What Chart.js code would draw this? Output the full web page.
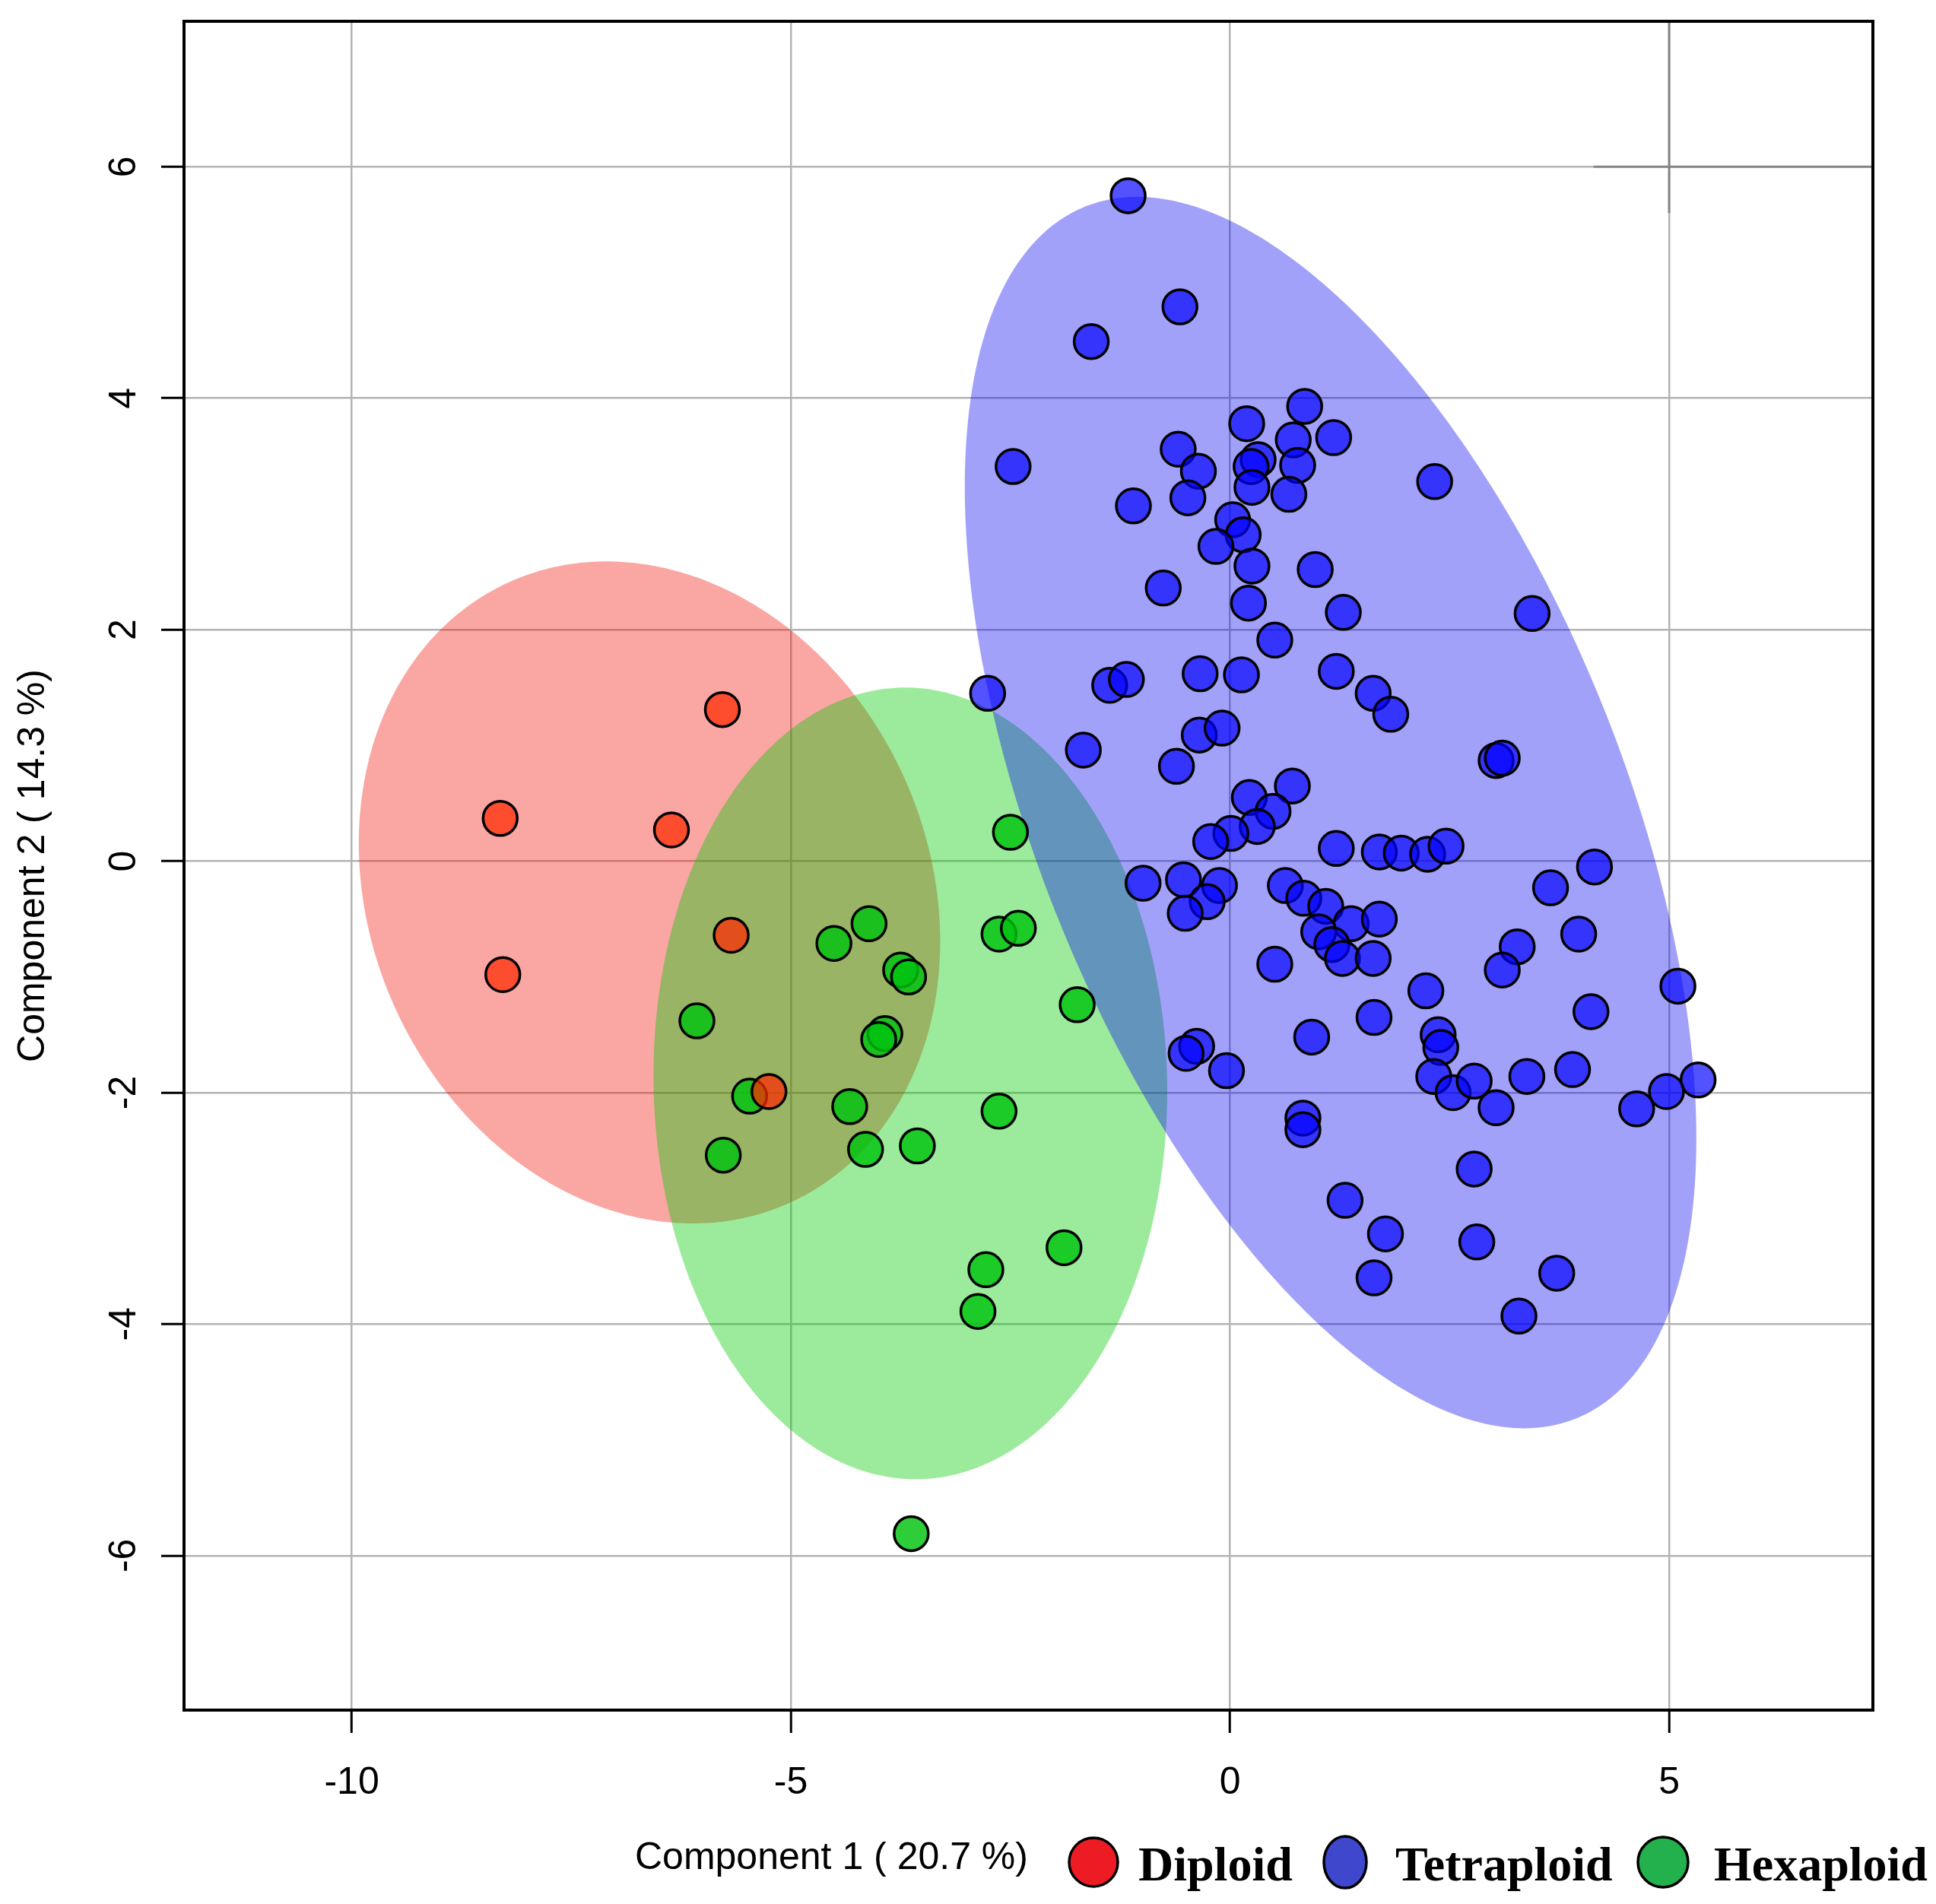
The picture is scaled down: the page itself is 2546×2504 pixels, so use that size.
<!DOCTYPE html>
<html>
<head>
<meta charset="utf-8">
<title>PCA ploidy</title>
<script src="https://cdn.jsdelivr.net/npm/chart.js@4.4.1/dist/chart.umd.min.js"></script>
<style>
  html, body { margin: 0; padding: 0; background: #fff; overflow: hidden; }
  #wrap { width: 2546px; height: 2504px; }
</style>
</head>
<body>
<div id="wrap"><canvas id="pca"></canvas></div>
<script>
// scores (Component 1, Component 2)
const groupNames = ['Diploid', 'Tetraploid', 'Hexaploid'];

const diploidX = [-5.78, -8.31, -6.36, -5.68, -8.28, -5.25];
const diploidY = [1.31, 0.37, 0.27, -0.64, -0.98, -1.99];

const tetraploidX = [
  -1.16, -0.57, -1.58, -2.47, -0.59, -0.36, -0.48, -1.10, 0.19, 0.85,
  0.72, 1.18, 0.32, 0.24, 0.77, 0.25, 0.67, 2.33, 0.03, 0.15,
  -0.16, 0.25, 0.97, -0.76, 0.21, 1.29, 3.44, 0.51, 1.21, 1.63,
  1.83, -0.34, 0.13, -1.37, -1.18, -2.76, -1.67, -0.35, -0.09, -0.61,
  3.03, 3.10, 0.22, 0.71, 0.49, 0.31, 0.01, -0.22, 1.21, 1.70,
  1.95, 2.25, 2.46, -0.99, -0.53, -0.12, -0.26, -0.51, 0.63, 0.84,
  1.09, 1.38, 1.70, 1.01, 1.16, 1.28, 1.63, 0.51, 3.27, 3.10,
  2.23, 1.64, 0.93, 2.37, 2.40, 2.32, 2.54, 2.78, 3.03, 3.38,
  -0.38, -0.50, -0.04, 0.83, 0.83, 2.78, 1.31, 1.77, 2.81, 1.64,
  3.29, 4.15, 3.65, 3.97, 5.10, 4.11, 3.90, 5.33, 4.97, 4.63,
  3.72
];
const tetraploidY = [
  5.75, 4.79, 4.49, 3.41, 3.56, 3.37, 3.14, 3.07, 3.78, 3.93,
  3.64, 3.66, 3.47, 3.41, 3.42, 3.23, 3.17, 3.28, 2.95, 2.82,
  2.72, 2.55, 2.52, 2.36, 2.23, 2.15, 2.14, 1.91, 1.64, 1.45,
  1.27, 1.62, 1.61, 1.52, 1.57, 1.45, 0.96, 1.09, 1.15, 0.82,
  0.87, 0.89, 0.55, 0.65, 0.43, 0.30, 0.24, 0.17, 0.11, 0.08,
  0.07, 0.06, 0.13, -0.19, -0.16, -0.21, -0.35, -0.45, -0.21, -0.32,
  -0.39, -0.54, -0.50, -0.61, -0.72, -0.84, -0.84, -0.89, -0.74, -0.94,
  -1.12, -1.35, -1.52, -1.50, -1.61, -1.86, -2.00, -1.90, -2.13, -1.86,
  -1.60, -1.66, -1.81, -2.22, -2.32, -2.66, -2.93, -3.22, -3.29, -3.60,
  -3.93, -0.05, -0.23, -0.63, -1.08, -1.30, -1.80, -1.89, -1.99, -2.14,
  -3.56
];

const hexaploidX = [
  -2.50, -2.63, -2.41, -1.74, -2.63, -1.89, -2.78, -2.87, -3.63, -4.11,
  -4.51, -3.75, -3.66, -6.07, -3.93, -4.00, -5.47, -4.33, -5.77, -4.15,
  -3.56
];
const hexaploidY = [
  0.25, -0.63, -0.58, -1.24, -2.16, -3.34, -3.53, -3.89, -5.81, -0.54,
  -0.71, -0.94, -1.00, -1.38, -1.49, -1.54, -2.03, -2.12, -2.54, -2.49,
  -2.46
];

// confidence ellipses (Diploid, Tetraploid, Hexaploid): centre, spread, correlation
const ellipseCx = [-6.61, 1.145, -3.64];
const ellipseCy = [-0.27, 0.42, -1.92];
const ellipseSx = [3.31, 4.165, 2.925];
const ellipseSy = [2.86, 5.32, 3.42];
const ellipseRho = [-0.148, -0.529, -0.02];

const xTicks = [-10, -5, 0, 5];
const yTicks = [-6, -4, -2, 0, 2, 4, 6];

const pointFill = ['rgba(255,40,0,0.72)', 'rgba(0,0,255,0.68)', 'rgba(0,195,15,0.82)'];
const ellipseFill = ['rgba(240,10,0,0.36)', 'rgba(0,0,240,0.37)', 'rgba(0,200,0,0.39)'];
const legendFill = ['#ed1c24', '#3f48cc', '#22b14c'];
const ellipseOrder = [0, 2, 1];

const SANS = '"Liberation Sans", Arial, sans-serif';
const SERIF = '"Liberation Serif", "Times New Roman", serif';

Chart.defaults.font.family = SANS;
Chart.defaults.font.size = 50;
Chart.defaults.color = '#000';

function toPoints(xs, ys) {
  return xs.map((v, i) => ({ x: v, y: ys[i] }));
}

// faint darker segments seen in the top-right corner of the original
const cornerPlugin = {
  id: 'corner',
  beforeDatasetsDraw(chart) {
    const { ctx, chartArea, scales: { x, y } } = chart;
    ctx.save();
    ctx.strokeStyle = '#858585';
    ctx.lineWidth = 3;
    ctx.beginPath();
    ctx.moveTo(x.getPixelForValue(5), chartArea.top);
    ctx.lineTo(x.getPixelForValue(5), y.getPixelForValue(5.6));
    ctx.moveTo(x.getPixelForValue(4.14), y.getPixelForValue(6));
    ctx.lineTo(chartArea.right, y.getPixelForValue(6));
    ctx.stroke();
    ctx.restore();
  }
};

const ellipsePlugin = {
  id: 'ellipses',
  beforeDatasetsDraw(chart) {
    const { ctx, chartArea, scales: { x, y } } = chart;
    ctx.save();
    ctx.beginPath();
    ctx.rect(chartArea.left, chartArea.top, chartArea.width, chartArea.height);
    ctx.clip();
    ellipseOrder.forEach(i => {
      const r = Math.sqrt(1 - ellipseRho[i] * ellipseRho[i]);
      ctx.beginPath();
      for (let k = 0; k <= 360; k++) {
        const t = k / 360 * 2 * Math.PI;
        const px = x.getPixelForValue(ellipseCx[i] + ellipseSx[i] * Math.cos(t));
        const py = y.getPixelForValue(ellipseCy[i] + ellipseSy[i] * (ellipseRho[i] * Math.cos(t) + r * Math.sin(t)));
        if (k === 0) ctx.moveTo(px, py); else ctx.lineTo(px, py);
      }
      ctx.closePath();
      ctx.fillStyle = ellipseFill[i];
      ctx.fill();
    });
    ctx.restore();
  }
};

const framePlugin = {
  id: 'frame',
  afterDraw(chart) {
    const { ctx, chartArea, scales: { y } } = chart;
    ctx.save();
    // box
    ctx.strokeStyle = '#000';
    ctx.lineWidth = 4;
    ctx.strokeRect(chartArea.left, chartArea.top, chartArea.width, chartArea.height);

    // y tick labels, rotated like base R
    ctx.fillStyle = '#000';
    ctx.font = '50px ' + SANS;
    ctx.textAlign = 'center';
    ctx.textBaseline = 'alphabetic';
    yTicks.forEach(v => {
      ctx.save();
      ctx.translate(chartArea.left - 64, y.getPixelForValue(v));
      ctx.rotate(-Math.PI / 2);
      ctx.fillText(String(v), 0, 0);
      ctx.restore();
    });

    // axis titles
    ctx.save();
    ctx.translate(58, (chartArea.top + chartArea.bottom) / 2);
    ctx.rotate(-Math.PI / 2);
    ctx.fillText('Component 2 ( 14.3 %)', 0, 0);
    ctx.restore();

    ctx.textAlign = 'left';
    ctx.fillText('Component 1 ( 20.7 %)', 835, 2458);

    // legend row
    const cy = 2449;
    const marks = [[1438, 32, 32], [1769, 28, 34], [2187, 33, 33]];
    const textX = [1497, 1835, 2254];
    groupNames.forEach((name, i) => {
      ctx.beginPath();
      ctx.ellipse(marks[i][0], cy, marks[i][1], marks[i][2], 0, 0, 2 * Math.PI);
      ctx.fillStyle = legendFill[i];
      ctx.fill();
      ctx.lineWidth = 3.5;
      ctx.strokeStyle = '#000';
      ctx.stroke();
      ctx.fillStyle = '#000';
      ctx.font = 'bold 64px ' + SERIF;
      ctx.fillText(name, textX[i], 2473);
    });
    ctx.restore();
  }
};

const gridStyle = {
  color: '#b4b4b4',
  lineWidth: 2.5,
  tickColor: '#000',
  tickWidth: 3,
  tickLength: 30
};

new Chart(document.getElementById('pca'), {
  type: 'scatter',
  data: {
    datasets: [
      { label: groupNames[0], data: toPoints(diploidX, diploidY), backgroundColor: pointFill[0] },
      { label: groupNames[1], data: toPoints(tetraploidX, tetraploidY), backgroundColor: pointFill[1] },
      { label: groupNames[2], data: toPoints(hexaploidX, hexaploidY), backgroundColor: pointFill[2] }
    ]
  },
  options: {
    responsive: true,
    maintainAspectRatio: false,
    devicePixelRatio: 1,
    animation: false,
    events: [],
    layout: { padding: { left: 0, top: 28, right: 83, bottom: 0 } },
    elements: {
      point: { radius: 22.5, borderWidth: 3.5, borderColor: '#000', pointStyle: 'circle' }
    },
    plugins: { legend: { display: false }, tooltip: { enabled: false } },
    scales: {
      x: {
        type: 'linear',
        position: 'bottom',
        min: -11.91,
        max: 7.32,
        afterBuildTicks: s => { s.ticks = xTicks.map(v => ({ value: v })); },
        afterFit: s => { s.height = 255; },
        grid: gridStyle,
        border: { display: false },
        ticks: {
          padding: 36,
          color: '#000',
          maxRotation: 0,
          autoSkip: false,
          font: { size: 50, family: SANS },
          callback: v => String(v)
        }
      },
      y: {
        type: 'linear',
        min: -7.335,
        max: 7.257,
        afterBuildTicks: s => { s.ticks = yTicks.map(v => ({ value: v })); },
        afterFit: s => { s.width = 242; },
        grid: gridStyle,
        border: { display: false },
        ticks: { display: false }
      }
    }
  },
  plugins: [cornerPlugin, ellipsePlugin, framePlugin]
});
</script>
</body>
</html>
